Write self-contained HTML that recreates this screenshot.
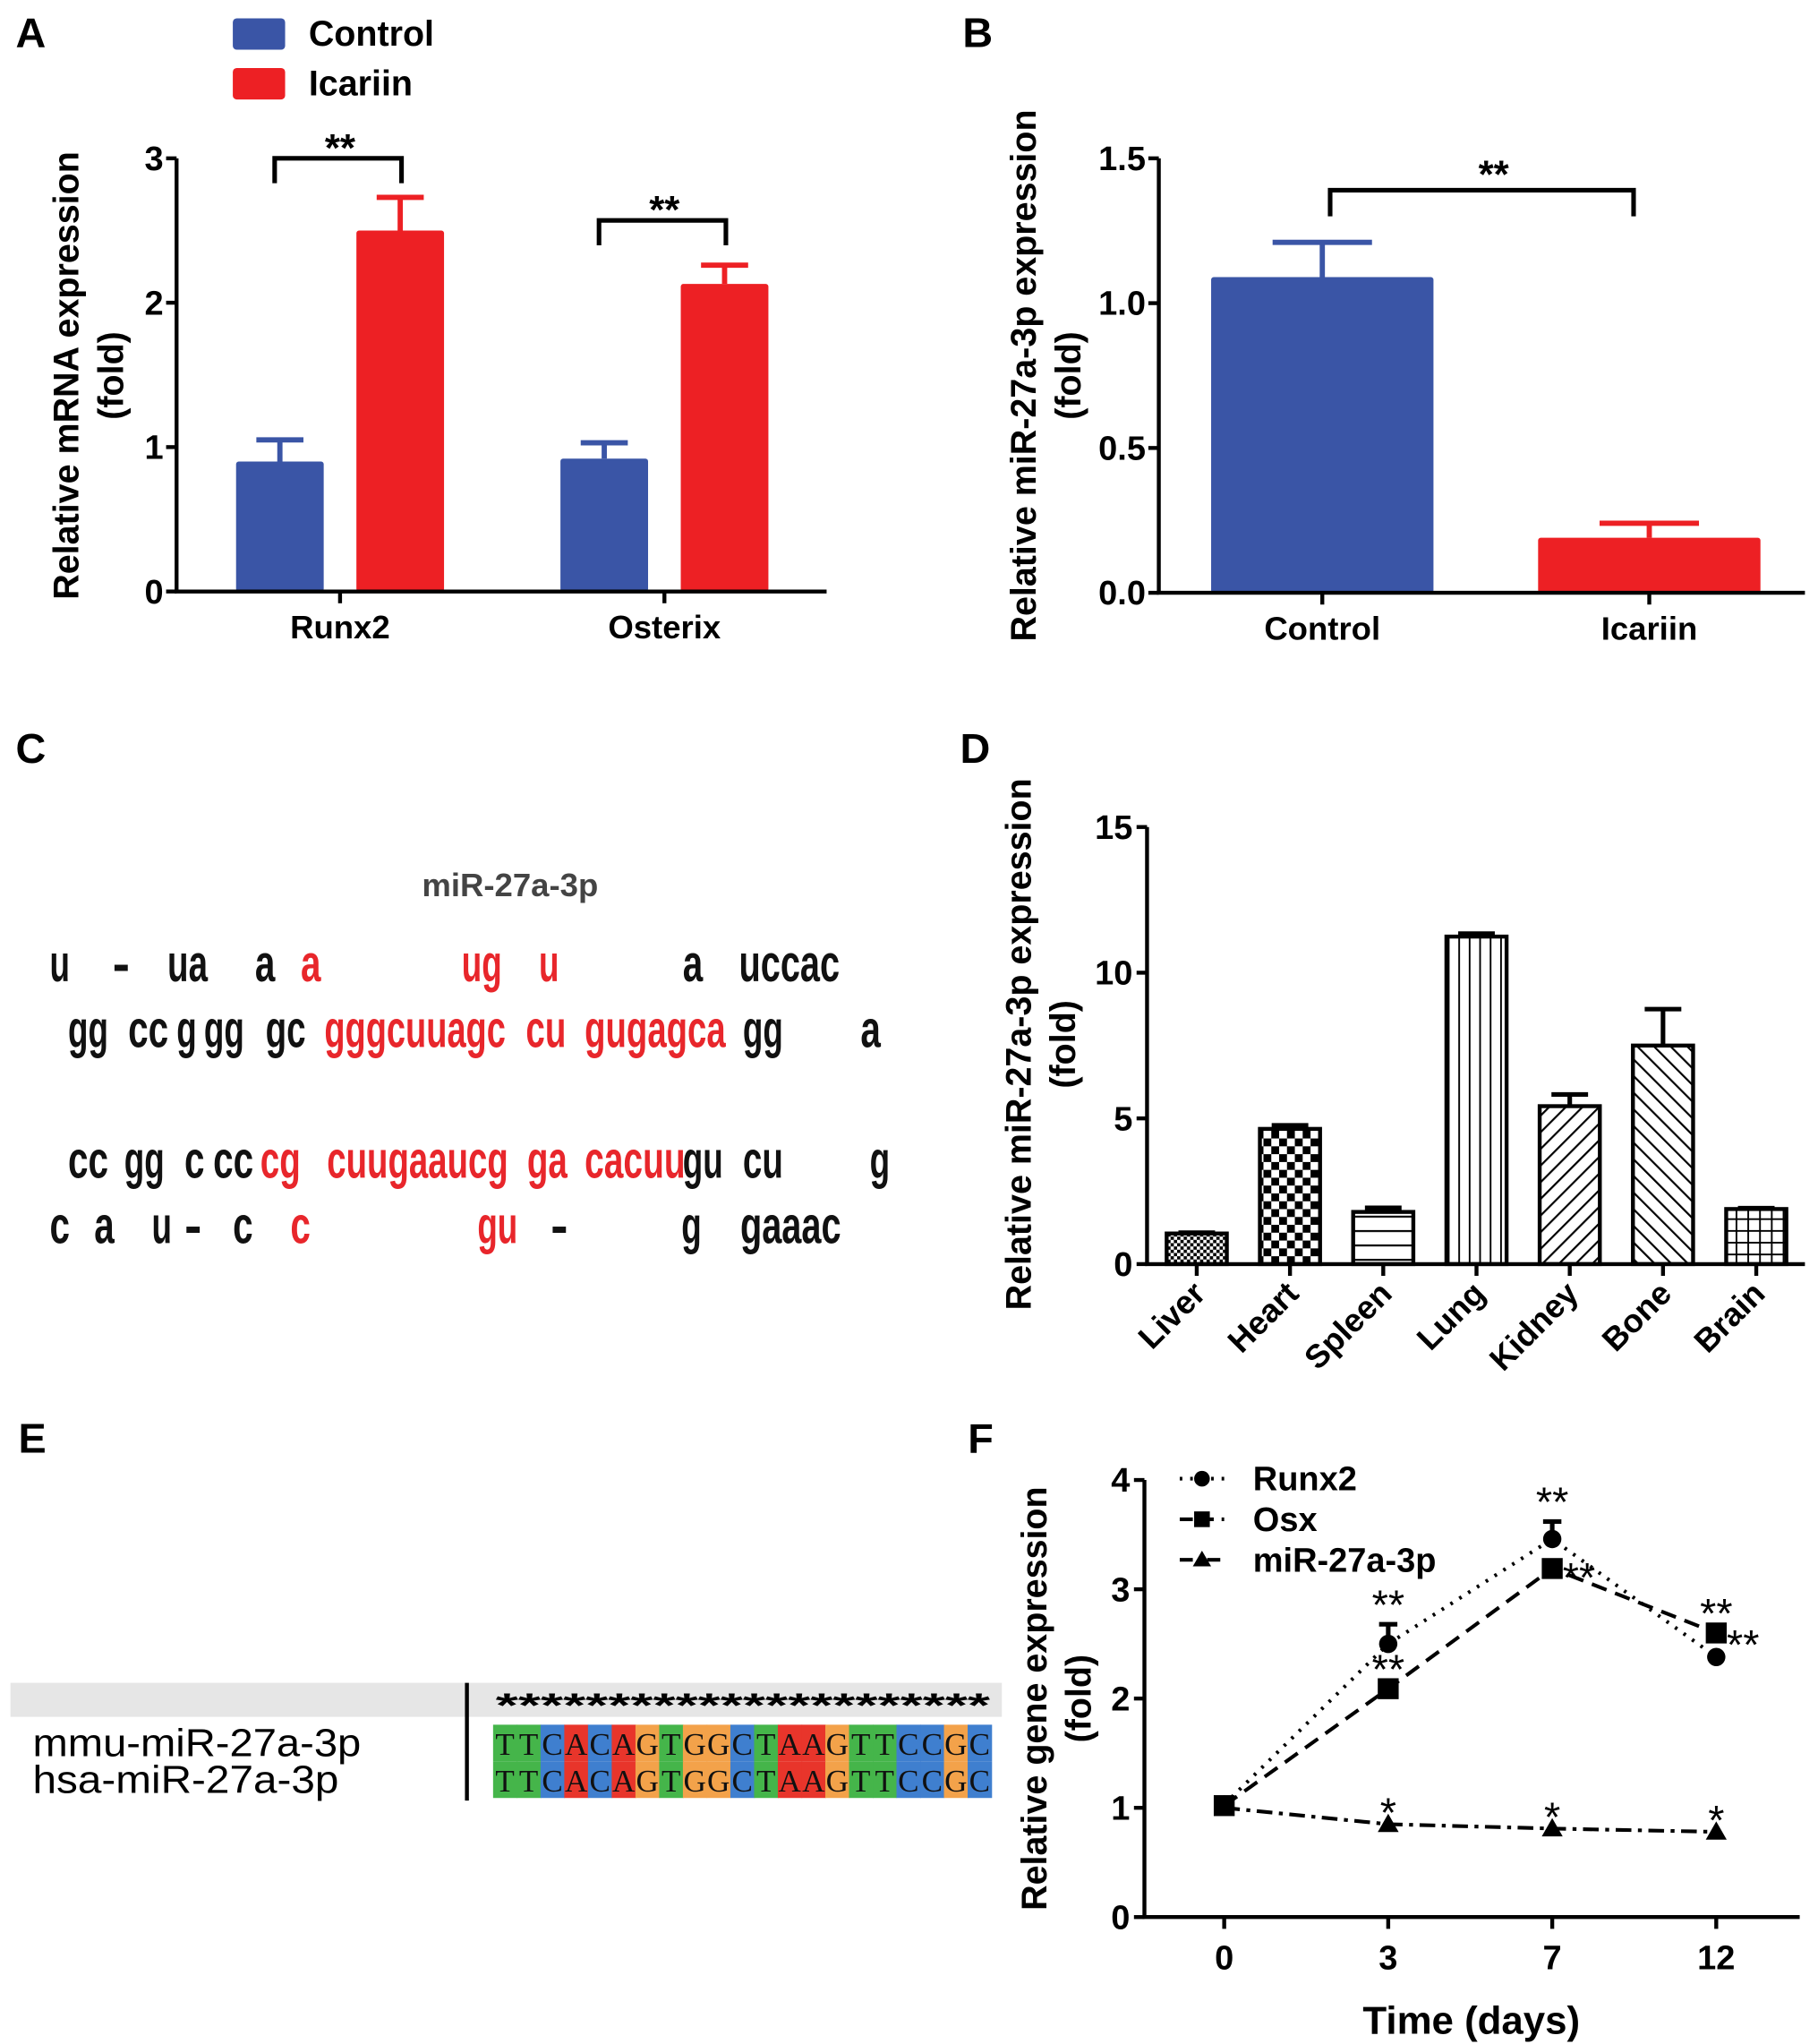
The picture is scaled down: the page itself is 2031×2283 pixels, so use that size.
<!DOCTYPE html>
<html><head><meta charset="utf-8"><style>
html,body{margin:0;padding:0;background:#fff;}
svg{display:block;font-family:"Liberation Sans",Arial,sans-serif;}
</style></head><body>
<svg id="fig" width="2031" height="2283" viewBox="0 0 1390 1562" preserveAspectRatio="none" xmlns="http://www.w3.org/2000/svg">
<defs>
<pattern id="pLiver" width="5" height="5" patternUnits="userSpaceOnUse"><rect width="5" height="5" fill="#fff"/><rect width="2.5" height="2.5" fill="#000"/><rect x="2.5" y="2.5" width="2.5" height="2.5" fill="#000"/></pattern>
<pattern id="pHeart" width="12" height="12" patternUnits="userSpaceOnUse"><rect width="12" height="12" fill="#fff"/><rect width="6" height="6" fill="#000"/><rect x="6" y="6" width="6" height="6" fill="#000"/></pattern>
<pattern id="pSpleen" width="10" height="11" patternUnits="userSpaceOnUse"><rect width="10" height="11" fill="#fff"/><rect y="5" width="10" height="1.5" fill="#000"/></pattern>
<pattern id="pLung" width="8" height="10" patternUnits="userSpaceOnUse"><rect width="8" height="10" fill="#fff"/><rect x="3" width="1.3" height="10" fill="#000"/></pattern>
<pattern id="pKidney" width="9" height="9" patternUnits="userSpaceOnUse" patternTransform="rotate(45)"><rect width="9" height="9" fill="#fff"/><rect x="4" width="1.5" height="9" fill="#000"/></pattern>
<pattern id="pBone" width="9" height="9" patternUnits="userSpaceOnUse" patternTransform="rotate(-45)"><rect width="9" height="9" fill="#fff"/><rect x="4" width="1.5" height="9" fill="#000"/></pattern>
<pattern id="pBrain" width="9" height="9" patternUnits="userSpaceOnUse"><rect width="9" height="9" fill="#fff"/><rect x="4" width="1.3" height="9" fill="#000"/><rect y="4" width="9" height="1.3" fill="#000"/></pattern>
</defs>

<text x="12" y="36" font-size="32" font-weight="bold">A</text>
<text x="736" y="36" font-size="32" font-weight="bold">B</text>
<text x="12" y="583" font-size="32" font-weight="bold">C</text>
<text x="734" y="583" font-size="32" font-weight="bold">D</text>
<text x="14" y="1110" font-size="32" font-weight="bold">E</text>
<text x="740" y="1110" font-size="32" font-weight="bold">F</text>

<g>
<rect x="178" y="14" width="40" height="24" rx="3" fill="#3a55a6"/>
<text x="236" y="35" font-size="27" font-weight="bold">Control</text>
<rect x="178" y="52" width="40" height="24" rx="3" fill="#ed2024"/>
<text x="236" y="73" font-size="27" font-weight="bold">Icariin</text>
</g>
<g id="panelA"></g>
<g id="panelB"></g>
<g id="panelD"></g>
<g id="panelF"></g>

<g font-weight="bold">
<text x="390" y="685" text-anchor="middle" font-size="25" font-weight="bold" fill="#444">miR-27a-3p</text>
<g id="seqC"></g>
</g>

<g>
<rect x="8" y="1286" width="758" height="26" fill="#e6e6e6"/>
<line x1="357" y1="1286" x2="357" y2="1376" stroke="#000" stroke-width="3"/>
<text x="25" y="1342" font-size="30" textLength="251" lengthAdjust="spacingAndGlyphs">mmu-miR-27a-3p</text>
<text x="25" y="1370" font-size="30" textLength="234" lengthAdjust="spacingAndGlyphs">hsa-miR-27a-3p</text>
<g id="alignE"></g>
</g>
</svg>
<script>
const NS="http://www.w3.org/2000/svg";
function el(parent,tag,attrs,text){const e=document.createElementNS(NS,tag);for(const k in attrs)e.setAttribute(k,attrs[k]);if(text!==undefined)e.textContent=text;parent.appendChild(e);return e;}

// ---------- Panel A data ----------
const aCategories=["Runx2","Osterix"];
const aControl=[0.9,0.92];
const aControlErr=[0.15,0.11];
const aIcariin=[2.5,2.13];
const aIcariinErr=[0.23,0.13];
const aTicks=[0,1,2,3];
const aBracket=[3.0,2.57];
// ---------- Panel B data ----------
const bCategories=["Control","Icariin"];
const bValues=[1.09,0.19];
const bErr=[0.12,0.05];
const bTicks=["0.0","0.5","1.0","1.5"];
const bBracket=[1.39];
// ---------- Panel D data ----------
const dCategories=["Liver","Heart","Spleen","Lung","Kidney","Bone","Brain"];
const dValues=[1.05,4.64,1.79,11.24,5.42,7.5,1.89];
const dErr=[0.03,0.12,0.14,0.1,0.4,1.25,0.03];
const dTicks=[0,5,10,15];
// ---------- Panel F data ----------
const fDays=["0","3","7","12"];
const fRunx2=[1.03,2.5,3.46,2.38];
const fRunx2Err=[0,0.18,0.16,0];
const fOsx=[1.02,2.09,3.19,2.6];
const fMir=[1.0,0.85,0.81,0.78];
const fTicks=[0,1,2,3,4];

const TICKFS=26, TITLEFS=27, XLFS=25;

(function(){
const g=document.getElementById('panelA');
const y=v=>452-v*(331/3);
const xc=i=>260+i*248;
const B="#3a55a6",R="#ed2024";
aCategories.forEach((c,i)=>{
  const cx=xc(i);
  [[aControl[i],aControlErr[i],cx-46,B,'control'],[aIcariin[i],aIcariinErr[i],cx+46,R,'icariin']].forEach(([v,e,bx,col,nm])=>{
    const eb=el(g,'path',{d:`M${bx} ${y(v)}V${y(v+e)}M${bx-18} ${y(v+e)}H${bx+18}`,stroke:col,'stroke-width':4,fill:'none'});
    
    
    const r=el(g,'rect',{x:bx-33.5,y:y(v),width:67,height:y(0)-y(v),fill:col,rx:2});
    
    
  });
  const by=y(aBracket[i]);
  const br=el(g,'path',{d:`M${cx-50} ${by+19}V${by}H${cx+47}V${by+19}`,stroke:'#000','stroke-width':3.5,fill:'none'});
  
  
  const st=el(g,'text',{x:cx,y:by+2,'font-size':30,'font-weight':'bold','text-anchor':'middle'},'**');
  
  
  const tk=el(g,'line',{x1:cx,y1:452,x2:cx,y2:461,stroke:'#000','stroke-width':3});
  
  
  const tl=el(g,'text',{x:cx,y:488,'font-size':XLFS,'font-weight':'bold','text-anchor':'middle'},c);
  
  
});
const ax=el(g,'path',{d:`M135 ${y(3)}V452H632`,stroke:'#000','stroke-width':3,fill:'none'});


aTicks.forEach(t=>{
  const tk=el(g,'line',{x1:127,y1:y(t),x2:135,y2:y(t),stroke:'#000','stroke-width':3});
  
  
  const tl=el(g,'text',{x:125,y:y(t)+9,'font-size':TICKFS,'font-weight':'bold','text-anchor':'end'},String(t));
  
  
});
const yl=el(g,'text',{transform:'translate(60,287) rotate(-90)','font-size':TITLEFS,'font-weight':'bold','text-anchor':'middle'},'Relative mRNA expression');


const yl2=el(g,'text',{transform:'translate(94,287) rotate(-90)','font-size':TITLEFS,'font-weight':'bold','text-anchor':'middle'},'(fold)');


})();

(function(){
const g=document.getElementById('panelB');
const y=v=>453-v*(332/1.5);
const xc=i=>1011+i*250;
const cols=["#3a55a6","#ed2024"];
bCategories.forEach((c,i)=>{
  const cx=xc(i),v=bValues[i],e=bErr[i];
  const eb=el(g,'path',{d:`M${cx} ${y(v)}V${y(v+e)}M${cx-38} ${y(v+e)}H${cx+38}`,stroke:cols[i],'stroke-width':4,fill:'none'});
  
  
  const r=el(g,'rect',{x:cx-85,y:y(v),width:170,height:y(0)-y(v),fill:cols[i],rx:2});
  
  
  const tk=el(g,'line',{x1:cx,y1:453,x2:cx,y2:462,stroke:'#000','stroke-width':3});
  
  
  const tl=el(g,'text',{x:cx,y:489,'font-size':XLFS,'font-weight':'bold','text-anchor':'middle'},c);
  
  
});
const by=y(bBracket[0]);
const br=el(g,'path',{d:`M1017 ${by+20}V${by}H1249V${by+20}`,stroke:'#000','stroke-width':3.5,fill:'none'});


const st=el(g,'text',{x:1142,y:by-2,'font-size':30,'font-weight':'bold','text-anchor':'middle'},'**');


const ax=el(g,'path',{d:`M886 ${y(1.5)}V453H1380`,stroke:'#000','stroke-width':3,fill:'none'});


bTicks.forEach(t=>{
  const v=parseFloat(t);
  const tk=el(g,'line',{x1:878,y1:y(v),x2:886,y2:y(v),stroke:'#000','stroke-width':3});
  
  
  const tl=el(g,'text',{x:876,y:y(v)+9,'font-size':TICKFS,'font-weight':'bold','text-anchor':'end'},t);
  
  
});
const yl=el(g,'text',{transform:'translate(792,287) rotate(-90)','font-size':TITLEFS,'font-weight':'bold','text-anchor':'middle'},'Relative miR-27a-3p expression');


const yl2=el(g,'text',{transform:'translate(826,287) rotate(-90)','font-size':TITLEFS,'font-weight':'bold','text-anchor':'middle'},'(fold)');


})();

(function(){
const g=document.getElementById('panelD');
const y=v=>966-v*(334/15);
const xc=i=>915+i*71.3;
const pats=["pLiver","pHeart","pSpleen","pLung","pKidney","pBone","pBrain"];
dCategories.forEach((c,i)=>{
  const cx=xc(i),v=dValues[i],e=dErr[i];
  const eb=el(g,'path',{d:`M${cx} ${y(v)}V${y(v+e)}M${cx-14} ${y(v+e)}H${cx+14}`,stroke:'#000','stroke-width':3.5,fill:'none'});
  
  
  const r=el(g,'rect',{x:cx-23,y:y(v),width:46,height:y(0)-y(v),fill:'url(#'+pats[i]+')',stroke:'#000','stroke-width':3});
  
  
  const tk=el(g,'line',{x1:cx,y1:966,x2:cx,y2:975,stroke:'#000','stroke-width':3});
  
  
  const tl=el(g,'text',{transform:`translate(${cx+8},${990}) rotate(-45)`,'font-size':XLFS,'font-weight':'bold','text-anchor':'end'},c);
  
  
});
const ax=el(g,'path',{d:`M877 ${y(15)}V966H1380`,stroke:'#000','stroke-width':3,fill:'none'});


dTicks.forEach(t=>{
  const tk=el(g,'line',{x1:869,y1:y(t),x2:877,y2:y(t),stroke:'#000','stroke-width':3});
  
  
  const tl=el(g,'text',{x:866,y:y(t)+9,'font-size':TICKFS,'font-weight':'bold','text-anchor':'end'},String(t));
  
  
});
const yl=el(g,'text',{transform:'translate(788,798) rotate(-90)','font-size':TITLEFS,'font-weight':'bold','text-anchor':'middle'},'Relative miR-27a-3p expression');


const yl2=el(g,'text',{transform:'translate(822,798) rotate(-90)','font-size':TITLEFS,'font-weight':'bold','text-anchor':'middle'},'(fold)');


})();

(function(){
const g=document.getElementById('panelF');
const y=v=>1465-v*(334/4);
const xc=i=>936+i*125.4;
function series(vals,dash,name){
  const d=vals.map((v,i)=>(i?'L':'M')+xc(i)+' '+y(v)).join('');
  const p=el(g,'path',{d:d,stroke:'#000','stroke-width':2.8,fill:'none','stroke-dasharray':dash});
  
  
}
series(fRunx2,'2 6','runx2');
series(fOsx,'12 7','osx');
series(fMir,'12 5 3 5','mir-27a-3p');
fRunx2.forEach((v,i)=>{
  if(fRunx2Err[i]>0){
    const eb=el(g,'path',{d:`M${xc(i)} ${y(v)}V${y(v+fRunx2Err[i])}M${xc(i)-7} ${y(v+fRunx2Err[i])}H${xc(i)+7}`,stroke:'#000','stroke-width':3.5,fill:'none'});
    
    
  }
  const c=el(g,'circle',{cx:xc(i),cy:y(v),r:7,fill:'#000'});
  
  
});
fOsx.forEach((v,i)=>{
  const s=el(g,'rect',{x:xc(i)-8,y:y(v)-8,width:16,height:16,fill:'#000'});
  
  
});
fMir.forEach((v,i)=>{
  const t=el(g,'path',{d:`M${xc(i)} ${y(v)-8}L${xc(i)+8} ${y(v)+6}L${xc(i)-8} ${y(v)+6}Z`,fill:'#000'});
  
  
});
for(let i=1;i<4;i++){
  const s1=el(g,'text',{x:xc(i),y:y(Math.max(fRunx2[i]+fRunx2Err[i],fOsx[i]))-4,'font-size':32,'text-anchor':'middle'},'**');
  
  
  const s3=el(g,'text',{x:xc(i),y:y(fMir[i])+2,'font-size':32,'text-anchor':'middle'},'*');
  
  
}
const osxStar=[[xc(1),y(fOsx[1])-4,'middle'],[xc(2)+8,y(fOsx[2])+18,'start'],[xc(3)+8,y(fOsx[3])+20,'start']];
osxStar.forEach(p=>{
  const s=el(g,'text',{x:p[0],y:p[1],'font-size':32,'text-anchor':p[2]},'**');
  
  
});
const ax=el(g,'path',{d:`M875 ${y(4)}V1465H1376`,stroke:'#000','stroke-width':3,fill:'none'});


fTicks.forEach(t=>{
  const tk=el(g,'line',{x1:867,y1:y(t),x2:875,y2:y(t),stroke:'#000','stroke-width':3});
  
  
  const tl=el(g,'text',{x:864,y:y(t)+9,'font-size':TICKFS,'font-weight':'bold','text-anchor':'end'},String(t));
  
  
});
fDays.forEach((d,i)=>{
  const tk=el(g,'line',{x1:xc(i),y1:1465,x2:xc(i),y2:1474,stroke:'#000','stroke-width':3});
  
  
  const tl=el(g,'text',{x:xc(i),y:1505,'font-size':TICKFS,'font-weight':'bold','text-anchor':'middle'},d);
  
  
});
const xt=el(g,'text',{x:1125,y:1554,'font-size':30,'font-weight':'bold','text-anchor':'middle'},'Time (days)');


const yl=el(g,'text',{transform:'translate(800,1298) rotate(-90)','font-size':TITLEFS,'font-weight':'bold','text-anchor':'middle'},'Relative gene expression');


const yl2=el(g,'text',{transform:'translate(834,1298) rotate(-90)','font-size':TITLEFS,'font-weight':'bold','text-anchor':'middle'},'(fold)');


const legNames=["Runx2","Osx","miR-27a-3p"];
const legDash=['2 6','10 6','10 4 3 4'];
legNames.forEach((n,i)=>{
  const ly=1130+i*31;
  const l=el(g,'line',{x1:902,y1:ly,x2:936,y2:ly,stroke:'#000','stroke-width':2.8,'stroke-dasharray':legDash[i]});
  
  
  let m;
  if(i===0)m=el(g,'circle',{cx:919,cy:ly,r:6,fill:'#000'});
  else if(i===1)m=el(g,'rect',{x:913,y:ly-6,width:12,height:12,fill:'#000'});
  else m=el(g,'path',{d:`M919 ${ly-7}L926 ${ly+5}L912 ${ly+5}Z`,fill:'#000'});
  
  
  const t=el(g,'text',{x:958,y:ly+9,'font-size':26,'font-weight':'bold'},n);
  
  
});
})();

// ---------- Panel C ----------
const cRows=[
 {y:750,items:[[38,"u",0],[86,"-",0],[128,"ua",0],[195,"a",0],[230,"a",1],[353,"ug",1],[412,"u",1],[522,"a",0],[565,"uccac",0]]},
 {y:800,items:[[52,"gg",0],[98,"cc",0],[135,"g",0],[156,"gg",0],[203,"gc",0],[248,"gggcuuagc",1],[402,"cu",1],[447,"gugagca",1],[568,"gg",0],[658,"a",0]]},
 {y:900,items:[[52,"cc",0],[95,"gg",0],[141,"c",0],[163,"cc",0],[199,"cg",1],[250,"cuugaaucg",1],[403,"ga",1],[447,"cacuu",1],[522,"gu",0],[568,"cu",0],[665,"g",0]]},
 {y:950,items:[[38,"c",0],[72,"a",0],[116,"u",0],[141,"-",0],[178,"c",0],[222,"c",1],[365,"gu",1],[421,"-",0],[521,"g",0],[566,"gaaac",0]]}
];
(function(){
const g=document.getElementById('seqC');
cRows.forEach((r,ri)=>{
  r.items.forEach(it=>{
    const n=it[1].length;
    const attrs={x:it[0],y:r.y,fill:it[2]?'#e8262b':'#111','font-size':40,'font-weight':'bold'};
    if(it[1]!=="-"){attrs.textLength=n*15.4;attrs.lengthAdjust='spacingAndGlyphs';}
    const t=el(g,'text',attrs,it[1]);
    
    
  });
});
})();

// ---------- Panel E ----------
const eSeq="TTCACAGTGGCTAAGTTCCGC";
(function(){
const g=document.getElementById('alignE');
const colors={T:'#45b54a',C:'#3f7fcf',A:'#e8352b',G:'#f3a24a'};
const x0=377,w=381/eSeq.length;
const st=el(g,'text',{x:x0+2,y:1312,'font-size':26,'font-weight':'bold',textLength:378,lengthAdjust:'spacingAndGlyphs'},'*'.repeat(eSeq.length+1));


[1318,1346].forEach((ry,ri)=>{
  eSeq.split('').forEach((ch,i)=>{
    const r=el(g,'rect',{x:x0+i*w,y:ry,width:w+0.5,height:28,fill:colors[ch]});
    
    
    const t=el(g,'text',{x:x0+i*w+w/2,y:ry+23,'font-size':24,'text-anchor':'middle','font-family':'Liberation Serif, serif',fill:'#111'},ch);
    
    
  });
});
})();
</script>
</body></html>
